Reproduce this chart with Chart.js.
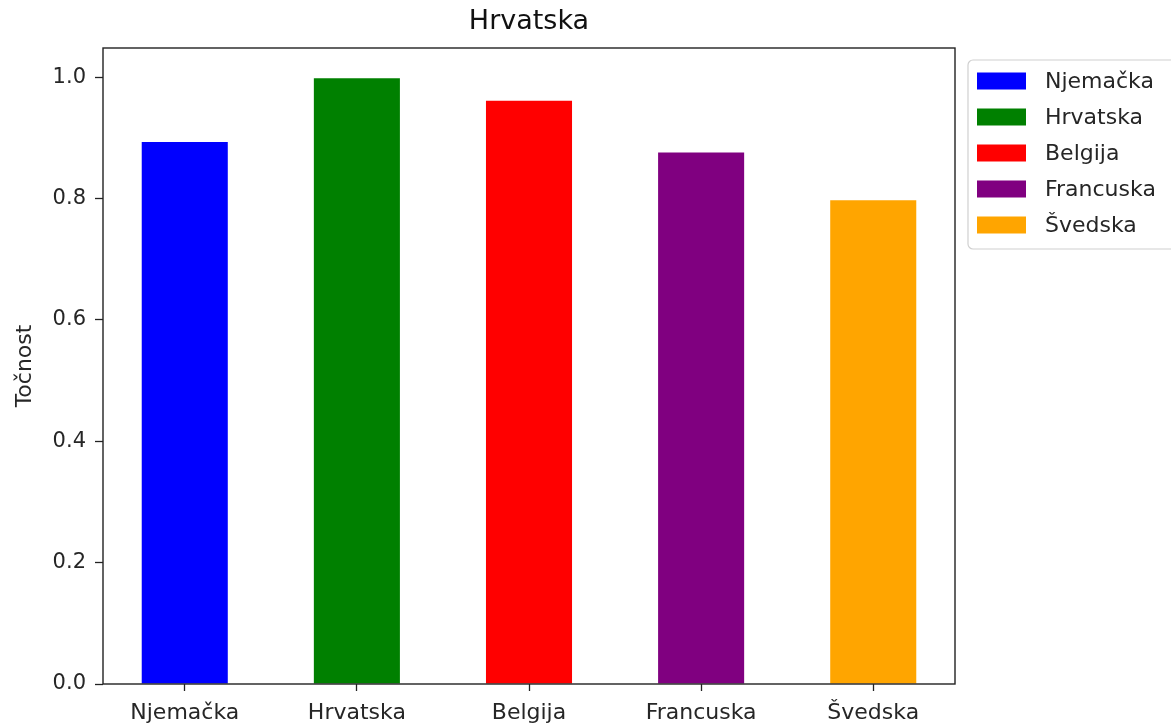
<!DOCTYPE html>
<html>
<head>
<meta charset="utf-8">
<title>Hrvatska</title>
<script src="https://cdn.jsdelivr.net/npm/chart.js@4"></script>
<style>
  html, body { margin: 0; padding: 0; background: #fff; }
  #wrap { position: relative; width: 1171px; height: 724px; }
</style>
</head>
<body>
<div id="wrap"><canvas id="chart"></canvas></div>
<script>
// data
const countries = ["Njemačka", "Hrvatska", "Belgija", "Francuska", "Švedska"];
const accuracy = [0.893, 0.998, 0.961, 0.876, 0.797];
const barColors = ["#0000ff", "#008000", "#ff0000", "#800080", "#ffa500"];
const yTicks = [0, 0.2, 0.4, 0.6, 0.8, 1.0];

Chart.defaults.font.family = "'DejaVu Sans', sans-serif";
Chart.defaults.color = "#262626";

// matplotlib-like box around the axes
const framePlugin = {
  id: "frame",
  afterDraw(chart) {
    const { ctx, chartArea: a } = chart;
    ctx.save();
    ctx.strokeStyle = "#222";
    ctx.lineWidth = 1.4;
    ctx.strokeRect(a.left, a.top, a.right - a.left, a.bottom - a.top);
    ctx.restore();
  }
};

// legend outside the axes, top right, with a rounded light frame
const boxLegend = {
  id: "boxLegend",
  afterDraw(chart) {
    const { ctx, chartArea: a } = chart;
    const x0 = a.right + 13, y0 = 60;
    ctx.save();
    ctx.strokeStyle = "#d0d0d0";
    ctx.lineWidth = 1.2;
    ctx.beginPath();
    ctx.roundRect(x0, y0, 240, 189, 5);
    ctx.stroke();
    ctx.font = "22px 'DejaVu Sans'";
    ctx.textBaseline = "middle";
    countries.forEach((c, i) => {
      const cy = 81 + i * 36;
      ctx.fillStyle = barColors[i];
      ctx.fillRect(x0 + 9, cy - 8.5, 49, 17);
      ctx.fillStyle = "#262626";
      ctx.fillText(c, x0 + 77, cy + 1);
    });
    ctx.restore();
  }
};

new Chart(document.getElementById("chart"), {
  type: "bar",
  data: {
    datasets: [{
      label: "Točnost",
      data: accuracy.map((v, i) => ({ x: i, y: v })),
      backgroundColor: barColors,
      borderWidth: 0,
      barPercentage: 0.5,
      categoryPercentage: 1.0
    }]
  },
  options: {
    responsive: true,
    maintainAspectRatio: false,
    animation: false,
    layout: { padding: { left: 0, right: 216, top: 0, bottom: 0 } },
    plugins: {
      legend: { display: false },
      tooltip: { enabled: false },
      title: {
        display: true,
        text: "Hrvatska",
        fullSize: false,
        color: "#111",
        font: { size: 27, weight: "normal" },
        padding: { top: 6, bottom: 9.6 }
      }
    },
    scales: {
      x: {
        type: "linear",
        min: -0.475,
        max: 4.475,
        offset: false,
        afterBuildTicks(axis) {
          axis.ticks = countries.map((c, i) => ({ value: i }));
        },
        afterFit(axis) { axis.height = 40; },
        border: { display: false },
        grid: { offset: false, drawOnChartArea: false, drawTicks: true, tickLength: 7, color: "#222", tickWidth: 1.3 },
        ticks: {
          font: { size: 22 },
          padding: 9,
          maxRotation: 0,
          autoSkip: false,
          callback: (v) => countries[v] ?? ""
        }
      },
      y: {
        min: 0,
        max: 1.048,
        afterBuildTicks(axis) {
          axis.ticks = yTicks.map((v) => ({ value: v }));
        },
        afterFit(axis) { axis.width = 103; },
        border: { display: false },
        grid: { drawOnChartArea: false, drawTicks: true, tickLength: 8, color: "#222", tickWidth: 1.3 },
        ticks: {
          font: { size: 21 },
          padding: 9,
          callback: (v) => Number(v).toFixed(1)
        },
        title: {
          display: true,
          text: "Točnost",
          font: { size: 22 },
          padding: { top: 12, bottom: 0 }
        }
      }
    }
  },
  plugins: [framePlugin, boxLegend]
});
</script>
</body>
</html>
